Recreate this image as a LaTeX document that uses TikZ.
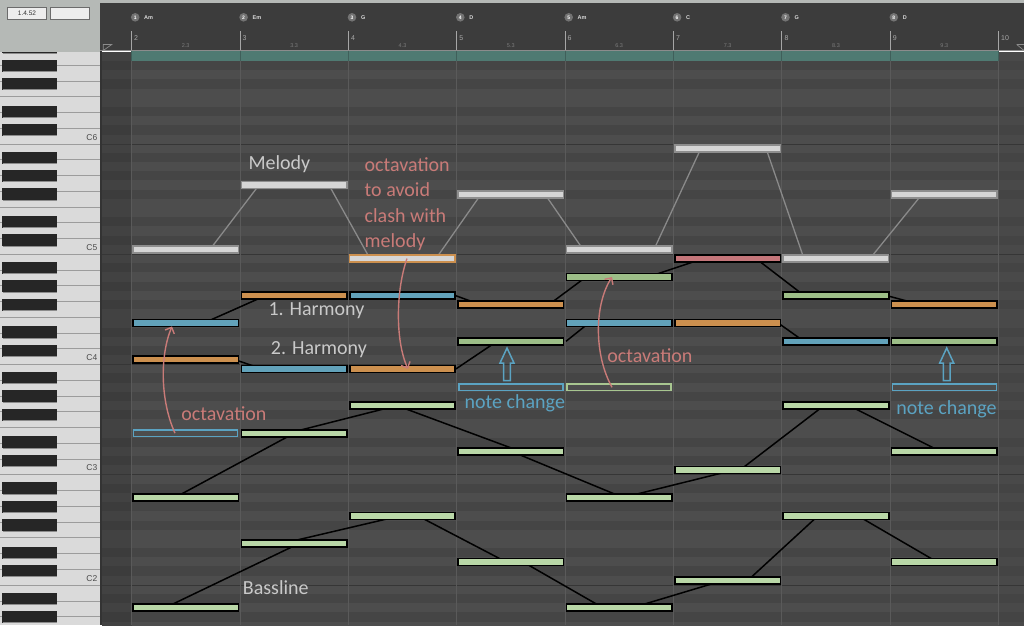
\documentclass[tikz,border=0pt]{standalone}
\usepackage{fontspec}
\setmainfont{Carlito}
\newfontfamily\uifont{Liberation Sans}
\usetikzlibrary{arrows.meta}
\pgfdeclarelayer{bg}
\pgfdeclarelayer{lines}
\pgfsetlayers{bg,lines,main}
\definecolor{panel}{HTML}{B5B9B6}
\definecolor{header}{HTML}{3C3C3C}
\definecolor{whitekey}{HTML}{DADADA}
\definecolor{keysep}{HTML}{9C9C9C}
\definecolor{keyblack}{HTML}{262626}
\definecolor{rowW}{HTML}{4D4D4D}
\definecolor{rowB}{HTML}{454545}
\definecolor{stripW}{HTML}{424242}
\definecolor{stripB}{HTML}{3C3C3C}
\definecolor{rightW}{HTML}{494949}
\definecolor{rightB}{HTML}{444444}
\definecolor{tealbar}{HTML}{4F7A72}
\definecolor{tealline}{HTML}{3F5F5A}
\definecolor{octline}{HTML}{363636}
\definecolor{barline}{HTML}{5A5A5A}
\definecolor{melfill}{HTML}{D6D6D6}
\definecolor{melborder}{HTML}{8E8E8E}
\definecolor{melline}{HTML}{8A8A8A}
\definecolor{bassgreen}{HTML}{B9D7A7}
\definecolor{hgreen}{HTML}{9DBE88}
\definecolor{hblue}{HTML}{62A2BA}
\definecolor{horange}{HTML}{CC904F}
\definecolor{hred}{HTML}{C4767A}
\definecolor{salmon}{HTML}{C97B78}
\definecolor{ncblue}{HTML}{5BA3C2}
\definecolor{ghostgreen}{HTML}{A8C690}
\definecolor{labelgray}{HTML}{C9C9C9}
\definecolor{rulertxt}{HTML}{A8A8A8}
\definecolor{subtxt}{HTML}{7C7C7C}
\definecolor{keylbl}{HTML}{4A4A4A}
\tikzset{
  notebox/.style={draw=black, line width=1.7pt, minimum width=105.5pt, minimum height=7pt, inner sep=0pt, outer sep=0pt},
  melbox/.style={draw=melborder, fill=melfill, line width=1.5pt, minimum width=105.5pt, minimum height=7pt, inner sep=0pt, outer sep=0pt},
  ghostbox/.style={line width=1.5pt, minimum width=104pt, minimum height=6.3pt, inner sep=0pt, outer sep=0pt},
  bassconn/.style={line width=1.5pt, draw=black},
  melconn/.style={line width=1.3pt, draw=melline},
  octarrow/.style={line width=1.4pt, draw=salmon, -{Straight Barb[length=5pt,width=10pt]}},
  blockarrow/.style={line width=1.5pt, draw=ncblue},
  lbl/.style={font=\fontsize{20}{24}\selectfont, inner sep=0pt, anchor=base west},
  barnum/.style={font=\uifont\fontsize{7}{7}\selectfont, text=rulertxt, inner sep=0pt, anchor=base west},
  subnum/.style={font=\uifont\fontsize{5.5}{6}\selectfont, text=subtxt, inner sep=0pt, anchor=base},
  chordname/.style={font=\uifont\bfseries\fontsize{5.5}{6}\selectfont, text=white!85!black, inner sep=0pt, anchor=base west},
  chordmark/.style={circle, fill=black!55, minimum size=8.6pt, inner sep=0pt, font=\uifont\bfseries\fontsize{5}{5}\selectfont, text=white},
  keylabel/.style={font=\uifont\fontsize{8.5}{9}\selectfont, text=keylbl, inner sep=0pt, anchor=base east},
}
\begin{document}
\begin{tikzpicture}[x=1pt,y=-1pt]
\useasboundingbox (0,0) rectangle (1024,625);
\begin{pgfonlayer}{bg}
  % top panels
  \fill[panel] (0,0) rectangle (1024,3);
  \fill[panel] (0,0) rectangle (100,52);
  \fill[header] (100,3) rectangle (1024,50.5);
  % grid rows
  \foreach \p in {-41,...,21}{
    \pgfmathtruncatemacro\pc{mod(\p+48,12)}
    \pgfmathtruncatemacro\isb{(\pc==1)||(\pc==3)||(\pc==6)||(\pc==8)||(\pc==10)}
    \pgfmathsetmacro\yt{254-(\p+1)*9.19}
    \pgfmathsetmacro\yb{254-\p*9.19}
    \ifnum\isb=1
      \fill[rowB] (131.5,\yt) rectangle (998.5,\yb);
      \fill[stripB] (101.7,\yt) rectangle (131.5,\yb);
      \fill[rightB] (998.5,\yt) rectangle (1024,\yb);
    \else
      \fill[rowW] (131.5,\yt) rectangle (998.5,\yb);
      \fill[stripW] (101.7,\yt) rectangle (131.5,\yb);
      \fill[rightW] (998.5,\yt) rectangle (1024,\yb);
    \fi
  }
  % keyboard
  \begin{scope}
    \clip (0,52) rectangle (100,625);
    \fill[whitekey] (0,52) rectangle (100,625);
    \foreach \k in {-6,...,31}
      \draw[keysep, line width=0.9pt] (0,{144+\k*15.757}) -- (100,{144+\k*15.757});
    \foreach \p in {-41,...,22}{
      \pgfmathtruncatemacro\pc{mod(\p+48,12)}
      \pgfmathtruncatemacro\isb{(\pc==1)||(\pc==3)||(\pc==6)||(\pc==8)||(\pc==10)}
      \pgfmathsetmacro\yc{254-(\p+0.5)*9.19}
      \ifnum\isb=1
        \fill[keyblack] (2,{\yc-6}) rectangle (57,{\yc+6});
        \draw[black!45, line width=0.6pt] (2.5,{\yc+5.7}) -- (56.5,{\yc+5.7});
      \fi
    }
  \end{scope}
  \fill[black!80] (99.5,50.5) rectangle (101.7,625);
  % teal bar
  \fill[tealbar] (131.5,51) rectangle (998.5,61);
  % octave lines
  \foreach \yy in {144,254.3,364.6,474.8,585.1}
    \draw[octline, line width=1pt] (101.7,\yy) -- (1024,\yy);
  % bar lines and ruler ticks
  \foreach \xx in {131.5,239.9,348.3,456.6,565.0,673.4,781.8,890.1,998.5}{
    \draw[barline, line width=0.8pt] (\xx,61) -- (\xx,625);
    \draw[tealline, line width=0.8pt] (\xx,51) -- (\xx,61);
    \draw[black!35, line width=0.8pt] (\xx,31) -- (\xx,50.5);
  }
  \draw[black!45, line width=1pt] (100,50.5) -- (1024,50.5);
  \draw[black!45, line width=0.7pt] (103.3,44.5) -- (111.7,44.5) -- (103.3,50.5) -- cycle;
  \draw[black!45, line width=0.7pt] (1016.7,44.5) -- (1024,44.5) -- (1024,51);
  \draw[black!45, line width=0.7pt] (1016.7,44.5) -- (1024,50.5);
\end{pgfonlayer}

% top-left boxes
\node[draw=black!58, fill=black!7, line width=0.8pt, minimum width=39pt, minimum height=12pt, inner sep=0pt, font=\uifont\fontsize{6.5}{7}\selectfont, text=black!80] (pos) at (27,13.3) {1.4.52};
\node[draw=black!58, fill=black!7, line width=0.8pt, minimum width=39pt, minimum height=12pt, inner sep=0pt] (posb) at (70.3,13.3) {};

% chord markers
\foreach \xx/\n/\ch in {131.5/1/Am,239.9/2/Em,348.3/3/G,456.6/4/D,565.0/5/Am,673.4/6/C,781.8/7/G,890.1/8/D}{
  \node[chordmark] (cm\n) at (\xx+3.7,17.3) {\n};
  \node[chordname] (cn\n) at (\xx+12.5,19.4) {\ch};
}
% bar numbers
\foreach \xx/\n in {131.5/2,239.9/3,348.3/4,456.6/5,565.0/6,673.4/7,781.8/8,890.1/9,998.5/10}{
  \node[barnum] (bn\n) at (\xx+2.5,40) {\n};
}
\foreach \xx/\n in {131.5/2,239.9/3,348.3/4,456.6/5,565.0/6,673.4/7,781.8/8,890.1/9}{
  \node[subnum] (sn\n) at (\xx+54.2,47) {\n.3};
}
% key labels
\node[keylabel] (kC6) at (97.5,140) {C6};
\node[keylabel] (kC5) at (97.5,250.3) {C5};
\node[keylabel] (kC4) at (97.5,360.6) {C4};
\node[keylabel] (kC3) at (97.5,470.9) {C3};
\node[keylabel] (kC2) at (97.5,581.2) {C2};

% melody
\node[melbox] (m1) at (185.7,249.4) {};
\node[melbox] (m2) at (294.1,185.1) {};
\node[melbox, draw=horange] (m3) at (402.45,258.6) {};
\node[melbox] (m4) at (510.8,194.3) {};
\node[melbox] (m5) at (619.2,249.4) {};
\node[melbox] (m6) at (727.6,148.3) {};
\node[melbox] (m7) at (835.95,258.6) {};
\node[melbox] (m8) at (944.3,194.3) {};
% harmony 1
\node[notebox, fill=hblue]   (ha1) at (185.7,322.9) {};
\node[notebox, fill=horange] (ha2) at (294.1,295.4) {};
\node[notebox, fill=hblue]   (ha3) at (402.45,295.4) {};
\node[notebox, fill=horange] (ha4) at (510.8,304.5) {};
\node[notebox, fill=hgreen]  (ha5) at (619.2,277.0) {};
\node[notebox, fill=hred]    (ha6) at (727.6,258.6) {};
\node[notebox, fill=hgreen]  (ha7) at (835.95,295.4) {};
\node[notebox, fill=horange] (ha8) at (944.3,304.5) {};
% harmony 2
\node[notebox, fill=horange] (hb1) at (185.7,359.7) {};
\node[notebox, fill=hblue]   (hb2) at (294.1,368.9) {};
\node[notebox, fill=horange] (hb3) at (402.45,368.9) {};
\node[notebox, fill=hgreen]  (hb4) at (510.8,341.3) {};
\node[notebox, fill=hblue]   (hb5) at (619.2,322.9) {};
\node[notebox, fill=horange] (hb6) at (727.6,322.9) {};
\node[notebox, fill=hblue]   (hb7) at (835.95,341.3) {};
\node[notebox, fill=hgreen]  (hb8) at (944.3,341.3) {};
% ghost boxes
\node[ghostbox, draw=ncblue]     (g1) at (185.7,433.2) {};
\node[ghostbox, draw=ncblue]     (g4) at (510.8,387.3) {};
\node[ghostbox, draw=ghostgreen] (g5) at (619.2,387.3) {};
\node[ghostbox, draw=ncblue]     (g8) at (944.3,387.3) {};
% bass upper
\node[notebox, fill=bassgreen] (ba1) at (185.7,497.5) {};
\node[notebox, fill=bassgreen] (ba2) at (294.1,433.2) {};
\node[notebox, fill=bassgreen] (ba3) at (402.45,405.6) {};
\node[notebox, fill=bassgreen] (ba4) at (510.8,451.6) {};
\node[notebox, fill=bassgreen] (ba5) at (619.2,497.5) {};
\node[notebox, fill=bassgreen] (ba6) at (727.6,470.0) {};
\node[notebox, fill=bassgreen] (ba7) at (835.95,405.6) {};
\node[notebox, fill=bassgreen] (ba8) at (944.3,451.6) {};
% bass lower
\node[notebox, fill=bassgreen] (bb1) at (185.7,607.8) {};
\node[notebox, fill=bassgreen] (bb2) at (294.1,543.5) {};
\node[notebox, fill=bassgreen] (bb3) at (402.45,515.9) {};
\node[notebox, fill=bassgreen] (bb4) at (510.8,561.9) {};
\node[notebox, fill=bassgreen] (bb5) at (619.2,607.8) {};
\node[notebox, fill=bassgreen] (bb6) at (727.6,580.2) {};
\node[notebox, fill=bassgreen] (bb7) at (835.95,515.9) {};
\node[notebox, fill=bassgreen] (bb8) at (944.3,561.9) {};

\begin{pgfonlayer}{lines}
  % melody connectors
  \draw[melconn] ([xshift=24.3pt]m1.center) -- ([xshift=-35.1pt]m2.center);
  \draw[melconn] ([xshift=34.9pt]m2.center) -- ([xshift=-32.5pt]m3.center);
  \draw[melconn] ([xshift=33.5pt]m3.center) -- ([xshift=-29.8pt]m4.center);
  \draw[melconn] ([xshift=34.2pt]m4.center) -- ([xshift=-36.2pt]m5.center);
  \draw[melconn] ([xshift=34.8pt]m5.center) -- ([xshift=-26.6pt]m6.center);
  \draw[melconn] ([xshift=38.4pt]m6.center) -- ([xshift=-32pt]m7.center);
  \draw[melconn] ([xshift=34pt]m7.center) -- ([xshift=-22.3pt]m8.center);
  % harmony 1 connectors
  \draw[bassconn] ([xshift=18.3pt]ha1.center) -- ([xshift=-28.1pt]ha2.center);
  \draw[bassconn] ([xshift=52.5pt]ha3.center) -- ([xshift=-30.8pt]ha4.center);
  \draw[bassconn] ([xshift=38.2pt]ha4.center) -- ([xshift=-33.2pt]ha5.center);
  \draw[bassconn] ([xshift=28.8pt]ha5.center) -- ([xshift=-24.6pt]ha6.center);
  \draw[bassconn] ([xshift=28.4pt]ha6.center) -- ([xshift=-32pt]ha7.center);
  \draw[bassconn] ([xshift=50pt]ha7.center) -- ([xshift=-24.3pt]ha8.center);
  % harmony 2 connectors
  \draw[bassconn] ([xshift=49.3pt]hb1.center) -- ([xshift=-32.1pt]hb2.center);
  \draw[bassconn] ([xshift=53.5pt]hb3.center) -- ([xshift=-13.8pt]hb4.center);
  \draw[bassconn] ([xshift=55.2pt]hb4.center) -- ([xshift=-30.2pt]hb5.center);
  \draw[bassconn] ([xshift=50.4pt]hb6.center) -- ([xshift=-32pt]hb7.center);
  % bass upper connectors
  \draw[bassconn] ([xshift=-10.7pt]ba1.center) -- (ba2.center);
  \draw[bassconn] ([xshift=-6pt]ba2.center) -- ([xshift=-5.5pt]ba3.center);
  \draw[bassconn] ([xshift=-5.5pt]ba3.center) -- ([xshift=10.2pt]ba4.center);
  \draw[bassconn] ([xshift=1.2pt]ba4.center) -- ([xshift=3.8pt]ba5.center);
  \draw[bassconn] ([xshift=3.8pt]ba5.center) -- ([xshift=6.4pt]ba6.center);
  \draw[bassconn] ([xshift=12.4pt]ba6.center) -- ([xshift=-12pt]ba7.center);
  \draw[bassconn] ([xshift=13pt]ba7.center) -- ([xshift=-3.3pt]ba8.center);
  % bass lower connectors
  \draw[bassconn] ([xshift=-20.7pt]bb1.center) -- ([xshift=4.9pt]bb2.center);
  \draw[bassconn] ([xshift=-12pt]bb2.center) -- ([xshift=-2.5pt]bb3.center);
  \draw[bassconn] ([xshift=15.5pt]bb3.center) -- ([xshift=-4.8pt]bb4.center);
  \draw[bassconn] ([xshift=12.2pt]bb4.center) -- ([xshift=-16.2pt]bb5.center);
  \draw[bassconn] ([xshift=12.8pt]bb5.center) -- ([xshift=-3.6pt]bb6.center);
  \draw[bassconn] ([xshift=20.4pt]bb6.center) -- ([xshift=-18pt]bb7.center);
  \draw[bassconn] ([xshift=22pt]bb7.center) -- ([xshift=-7.3pt]bb8.center);
\end{pgfonlayer}

% octavation arrows
\draw[octarrow] ([xshift=-10.7pt]g1.center) .. controls (160,400) and (160,355) .. ([xshift=-13.7pt]ha1.south);
\draw[octarrow] ([xshift=4.5pt]m3.center) .. controls (396,290) and (395,340) .. ([xshift=5.5pt]hb3.center);
\draw[octarrow] ([xshift=-7.2pt]g5.center) .. controls (594,355) and (594,305) .. ([xshift=-7.2pt]ha5.center);

% note change block arrows
\coordinate (na1) at (507,380.5);
\coordinate (na2) at (946.7,380.5);
\draw[blockarrow] (na1) ++(-3.3,0) -- ++(0,-17.5) -- ++(-3.7,0) -- ++(7,-15) -- ++(7,15) -- ++(-3.7,0) -- ++(0,17.5) -- cycle;
\draw[blockarrow] (na2) ++(-3.3,0) -- ++(0,-17.5) -- ++(-3.7,0) -- ++(7,-15) -- ++(7,15) -- ++(-3.7,0) -- ++(0,17.5) -- cycle;

% labels
\node[lbl, text=labelgray] (tmel) at (248.3,169.3) {Melody};
\node[lbl, text=labelgray] (th1) at (268.3,315.7) {1. Harmony};
\node[lbl, text=labelgray] (th2) at (270.7,354.3) {2. Harmony};
\node[lbl, text=labelgray] (tbass) at (242.7,594.3) {Bassline};
\node[lbl, text=salmon] (toa) at (364.5,171.7) {octavation};
\node[lbl, text=salmon] (tob) at (364.5,196.9) {to avoid};
\node[lbl, text=salmon] (toc) at (364.5,222.1) {clash with};
\node[lbl, text=salmon] (tod) at (364.5,247.3) {melody};
\node[lbl, text=salmon] (to1) at (181.2,420) {octavation};
\node[lbl, text=salmon] (to2) at (607.2,362.3) {octavation};
\node[lbl, text=ncblue] (tnc1) at (464.5,408.3) {note change};
\node[lbl, text=ncblue] (tnc2) at (896.2,414.3) {note change};
\end{tikzpicture}
\end{document}
